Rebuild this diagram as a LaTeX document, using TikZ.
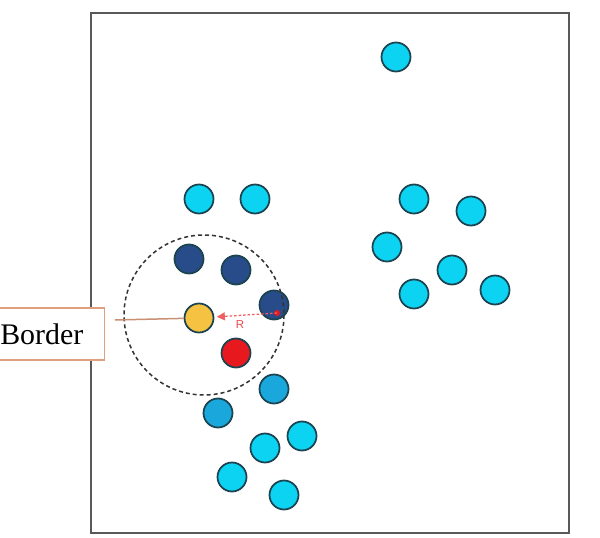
\documentclass[tikz,border=0pt]{standalone}
\usepackage{fontspec}
\setmainfont{Liberation Serif}
\setsansfont{Liberation Sans}
\usepackage{tikz}
\usetikzlibrary{positioning,arrows.meta}

\definecolor{ptcyan}{HTML}{0DD3F2}
\definecolor{ptmid}{HTML}{1AA8DC}
\definecolor{ptdark}{HTML}{284B8A}
\definecolor{ptyellow}{HTML}{F5C242}
\definecolor{ptred}{HTML}{E8191E}
\definecolor{ptline}{HTML}{1C4450}
\definecolor{tagline}{HTML}{E0A080}

\begin{document}
\begin{tikzpicture}[x=0.2mm, y=-0.2mm,
  pt/.style={circle, draw=ptline, line width=0.35mm, minimum size=5.8mm, inner sep=0pt},
  tag/.style={draw=tagline, fill=white, line width=0.3mm, font=\fontsize{17}{20}\selectfont,
    inner xsep=4.2mm, minimum height=10.4mm, anchor=east}]
  \useasboundingbox (0,0) rectangle (600,538);
  \fill[white] (0,0) rectangle (600,538);
  \draw[gray!70!black, line width=0.4mm] (91,13) rectangle (569,533);

  % far points
  \node[pt, fill=ptcyan] (c1)  at (396,57)  {};
  \node[pt, fill=ptcyan] (c2)  at (199,199) {};
  \node[pt, fill=ptcyan] (c3)  at (255,199) {};
  \node[pt, fill=ptcyan] (c4)  at (414,199) {};
  \node[pt, fill=ptcyan] (c5)  at (471,211) {};
  \node[pt, fill=ptcyan] (c6)  at (387,247) {};
  \node[pt, fill=ptcyan] (c7)  at (452,270) {};
  \node[pt, fill=ptcyan] (c8)  at (414,294) {};
  \node[pt, fill=ptcyan] (c9)  at (495,290) {};
  \node[pt, fill=ptcyan] (c10) at (265,448) {};
  \node[pt, fill=ptcyan] (c11) at (302,436) {};
  \node[pt, fill=ptcyan] (c12) at (232,477) {};
  \node[pt, fill=ptcyan] (c13) at (284,495) {};
  \node[pt, fill=ptmid]  (m1)  at (274,389) {};
  \node[pt, fill=ptmid]  (m2)  at (218,413) {};

  % neighbourhood
  \node[pt, fill=ptdark] (d1) at (189,259) {};
  \node[pt, fill=ptdark] (d2) at (236,270) {};
  \node[pt, fill=ptdark] (d3) at (274,305) {};
  \node[pt, fill=ptyellow] (yel) at (199,318) {};
  \node[pt, fill=ptred] (red) at (236,353) {};

  \draw[black!80, line width=0.3mm, dash pattern=on 0.8mm off 0.6mm] (204,315) circle[radius=80];

  \coordinate (rim) at (277,313);
  \fill[ptred] (rim) circle[radius=3];
  \draw[ptred!70, line width=0.25mm, dash pattern=on 0.5mm off 0.4mm,
    -{Triangle[length=1.6mm, width=1.6mm]}, shorten >=0.5mm] (rim) -- (yel);
  \node[text=ptred!80, font=\sffamily\fontsize{6.5}{7}\selectfont] (rlab) at (240,325) {R};

  \node[tag] (border) at (105,334) {Border};
  \coordinate (lead) at (115,320);
  \draw[tagline!90!black, line width=0.3mm] (lead) -- (yel);
\end{tikzpicture}
\end{document}
